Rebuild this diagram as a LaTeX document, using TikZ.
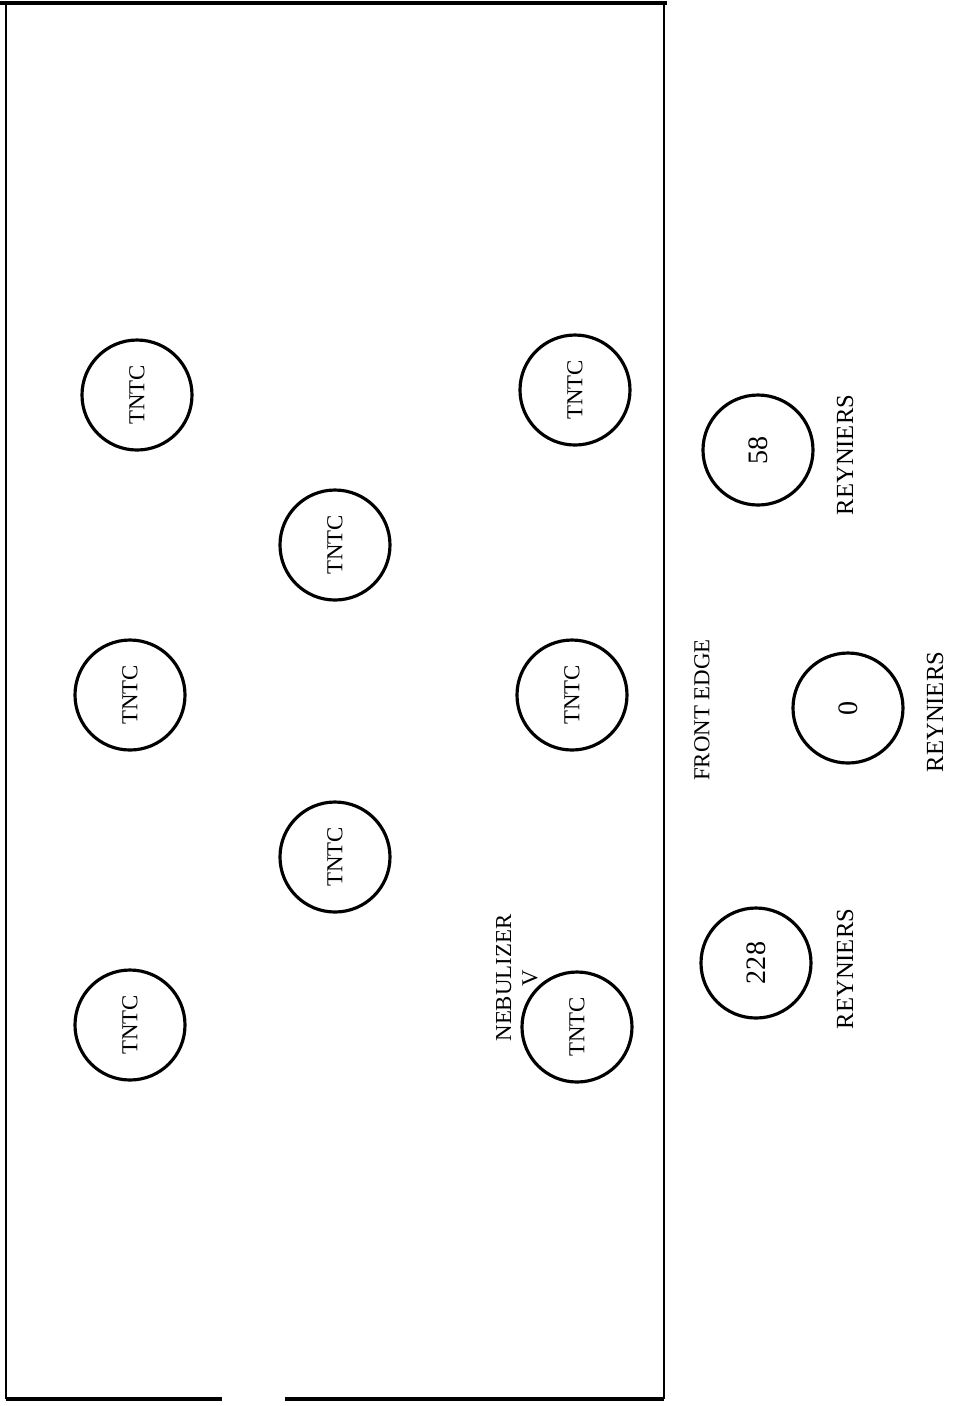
\documentclass[tikz,border=0pt]{standalone}
\usepackage{fontspec}
\setmainfont{Liberation Serif}
\begin{document}
\begin{tikzpicture}[x=0.1mm,y=-0.1mm,
  plate/.style={draw,circle,line width=0.9pt,minimum size=11mm,inner sep=0pt,rotate=90,font=\fontsize{6.5}{7.5}\selectfont},
  count/.style={plate,font=\fontsize{8}{9}\selectfont},
  lbl/.style={rotate=90,inner sep=0pt,align=center,font=\fontsize{6.5}{7.5}\selectfont}]
  \useasboundingbox (0,0) rectangle (953,1406);
  % hood outline
  \draw[line width=1.2pt] (0,3) -- (667,3);
  \draw[line width=0.4pt] (6,3) -- (6,1399);
  \draw[line width=0.4pt] (664,3) -- (664,1399);
  \draw[line width=1.2pt] (6,1399) -- (222,1399);
  \draw[line width=1.2pt] (285,1399) -- (664,1399);
  % plates inside
  \node[plate] (t1) at (137,395) {TNTC};
  \node[plate] (t2) at (575,390) {TNTC};
  \node[plate] (t3) at (335,545) {TNTC};
  \node[plate] (t4) at (130,695) {TNTC};
  \node[plate] (t5) at (572,695) {TNTC};
  \node[plate] (t6) at (335,857) {TNTC};
  \node[plate] (t7) at (130,1025) {TNTC};
  \node[plate] (t8) at (577,1027) {TNTC};
  % plates outside
  \node[count] (r58) at (758,450) {58};
  \node[count] (r0) at (848,708) {0};
  \node[count] (r228) at (756,963) {228};
  \node[lbl,font=\fontsize{7}{8}\selectfont] (l58) at (845,455) {REYNIERS};
  \node[lbl,font=\fontsize{7}{8}\selectfont] (l0) at (935,712) {REYNIERS};
  \node[lbl,font=\fontsize{7}{8}\selectfont] (l228) at (845,969) {REYNIERS};
  \node[lbl] (edge) at (702,710) {FRONT EDGE};
  \node[lbl] (neb) at (517,978) {NEBULIZER\\V};
\end{tikzpicture}
\end{document}
